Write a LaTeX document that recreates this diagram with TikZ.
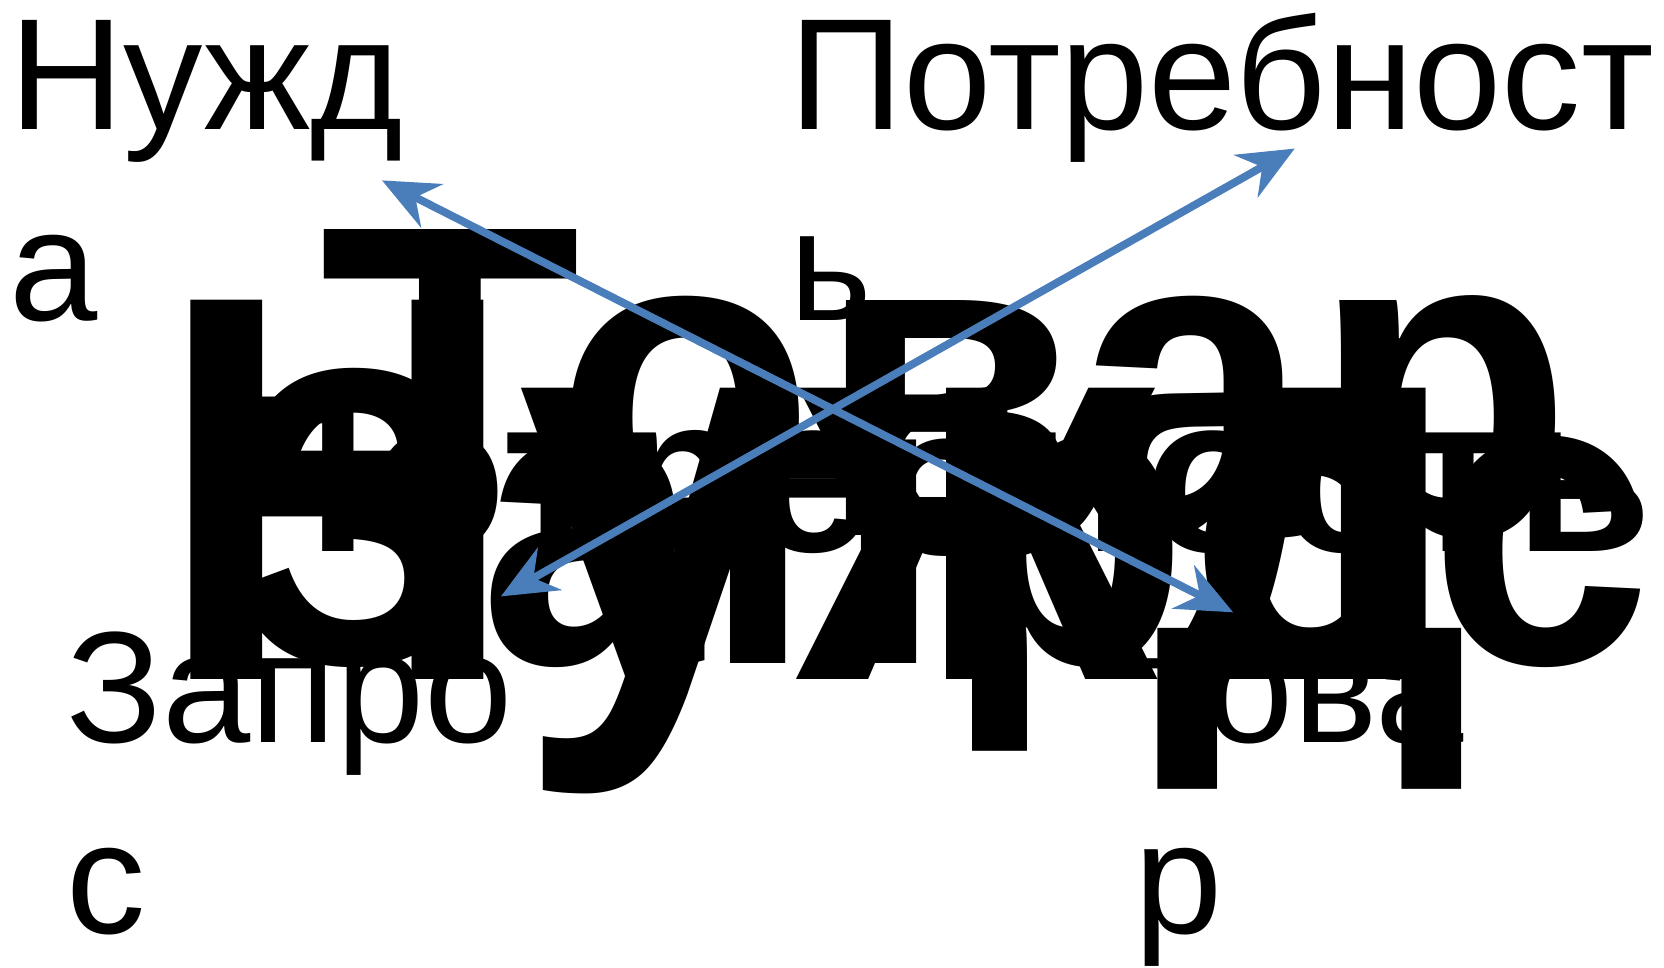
\documentclass[tikz,border=0pt]{standalone}
\usepackage{fontspec}
\setmainfont{Liberation Sans}
\usetikzlibrary{arrows.meta}

\definecolor{linkblue}{RGB}{74,126,187}

\tikzset{
  cornertext/.style={inner sep=0pt, anchor=base west, align=left,
    font=\fontsize{42.5}{51.2}\selectfont},
  bigword/.style={inner sep=0pt, anchor=base west, font=\bfseries},
  link/.style={draw=linkblue, line width=2.1pt,
    {Stealth[length=15pt,width=13pt,inset=5pt]}-{Stealth[length=15pt,width=13pt,inset=5pt]}}
}

\begin{document}
\begin{tikzpicture}[x=0.01cm, y=-0.01cm]
  \useasboundingbox (0,0) rectangle (1568,912);

  % big words piled up in the middle
  \node[bigword] (tovar) at (300,505) {\resizebox{11.8cm}{2.88cm}{Товар}};
  \node[bigword] (potr) at (195,520) {\resizebox{13.6cm}{1.55cm}{Потребность}};
  \node[bigword] (nuzhda) at (148,640) {\resizebox{12.35cm}{3.57cm}{Нужд}};
  \node[bigword] (zapros) at (215,625) {\resizebox{13.4cm}{2.78cm}{Запрос}};

  % corner texts
  \node[cornertext] (need) at (8,302) {Нужд\\а};
  \node[cornertext] (want) at (743,302) {Потребност\\ь};
  \node[cornertext] (demand) at (62,880) {Запро\\с};
  \node[cornertext] (goods) at (1068,880) {това\\р};

  % arrows
  \coordinate (needtip) at (360,170);
  \coordinate (goodstip) at (1162,577);
  \coordinate (demandtip) at (472,562);
  \coordinate (wanttip) at (1220,140);
  \draw[link] (needtip) -- (goodstip);
  \draw[link] (demandtip) -- (wanttip);
\end{tikzpicture}
\end{document}
